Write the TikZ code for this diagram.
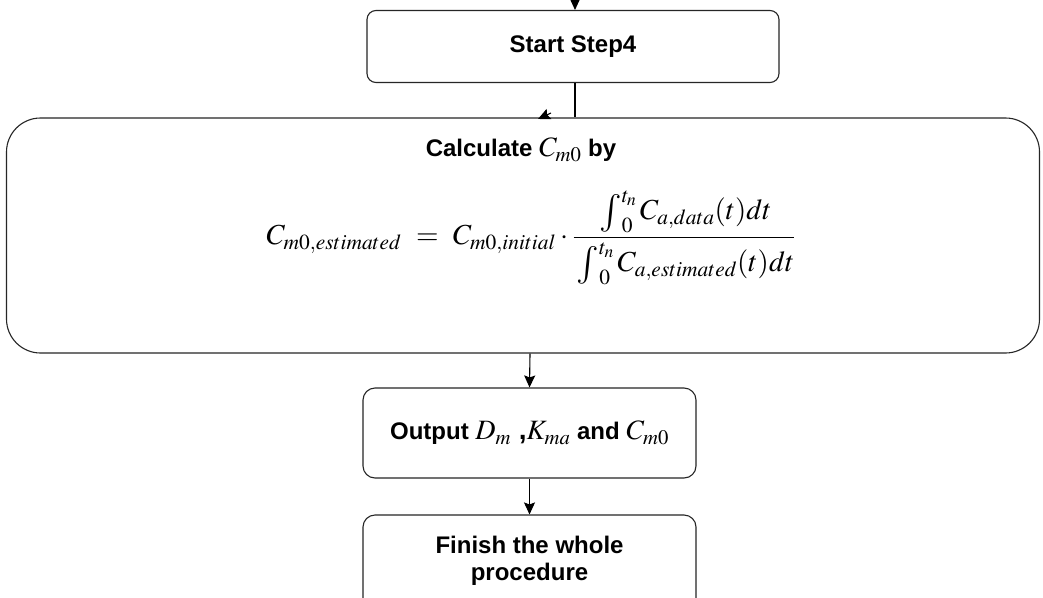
\documentclass[tikz,border=0pt]{standalone}
\usepackage{amsmath}
\usepackage{graphicx}
\usepackage{mathptmx}
\usepackage{fontspec}
\setmainfont{Liberation Sans}
\usetikzlibrary{arrows.meta,calc}
\newcommand{\bigint}{\mathop{\raisebox{-3pt}{\scalebox{1.3}{$\textstyle\int$}}}\nolimits}
\begin{document}
\begin{tikzpicture}[x=1pt,y=-1pt,
  box/.style={draw=black!85,line width=1.1pt,rounded corners=#1,inner sep=0pt,align=center,
     font=\fontsize{24}{28}\selectfont\bfseries},
  arr/.style={line width=1.1pt,-{Stealth[length=12pt,width=11pt,inset=2pt]}},
  ln/.style={line width=1.1pt}]
\useasboundingbox (0,0) rectangle (1043,597);
\clip (0,0) rectangle (1043,597);
\fill[white] (0,0) rectangle (1043,597);
\node[box=9pt,minimum width=412pt,minimum height=72pt] (start) at (573,46.5) {Start Step4};
\node[box=34pt,minimum width=1033pt,minimum height=235pt] (calc) at (523,235.5) {};
\node[font=\fontsize{24}{28}\selectfont\bfseries] (calct) at (521,150) {Calculate {\fontsize{28}{30}\selectfont$C_{m0}$} by};
\node[font=\fontsize{29}{32}\selectfont] (formula) at (531,238)
  {$C_{m0,estimated}\ =\ C_{m0,initial}\cdot\dfrac{\rule[-8pt]{0pt}{10pt}\bigint_0^{t_n} C_{a,data}(t)dt}{\rule{0pt}{30pt}\bigint_0^{t_n} C_{a,estimated}(t)dt}$};
\node[box=12pt,minimum width=333pt,minimum height=90pt] (out) at (529.5,433) {Output {\fontsize{28}{30}\selectfont$D_m$ ,$K_{ma}$} and {\fontsize{28}{30}\selectfont$C_{m0}$}};
\node[box=12pt,minimum width=333pt,minimum height=100pt,text depth=0pt] (fin) at (529.5,565) {};
\node[font=\fontsize{24}{27}\selectfont\bfseries,align=center] (fint) at (529.5,561) {Finish the whole\\procedure};
\coordinate (topin) at (575,-2);
\draw[arr] (topin) -- (topin |- start.north);
\draw[ln] ($(start.south)+(2,0)$) -- ($(calc.north)+(52,0)$);
\coordinate (tipa) at (551,113);
\coordinate (tipb) at (538,119);
\draw[arr] (tipa) -- (tipb);
\draw[arr] ($(calc.south)+(7,0)$) -- (out.north);
\draw[arr] (out.south) -- (fin.north);
\end{tikzpicture}
\end{document}
